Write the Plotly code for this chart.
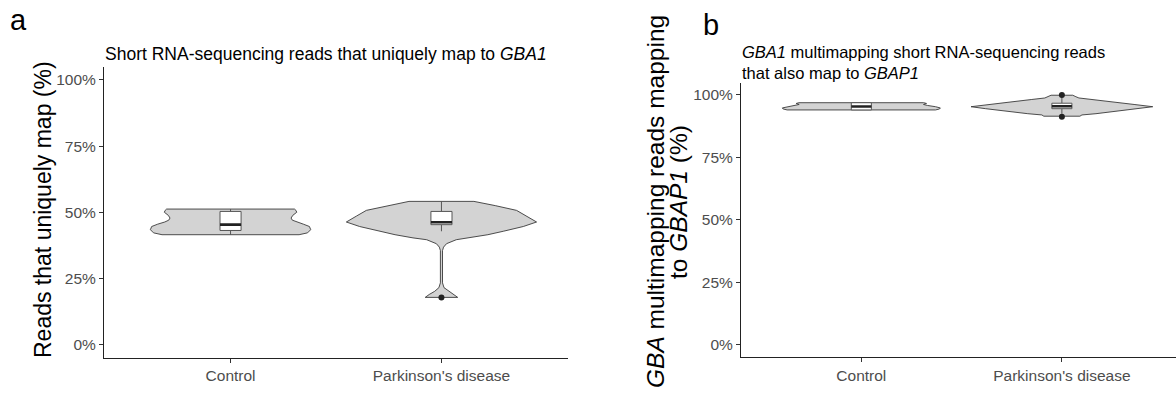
import plotly.graph_objects as go

# ---------------- data ----------------
categories = ["Control", "Parkinson's disease"]
cat_pos = [1, 2]
y_tick_vals = [0, 0.25, 0.5, 0.75, 1.0]
y_tick_text = ["0%", "25%", "50%", "75%", "100%"]

# Panel a: violin outlines (value level, half-width in category units)
ctrl_a_y = [0.415, 0.422, 0.434, 0.446, 0.455, 0.463, 0.470, 0.478, 0.488, 0.500, 0.507, 0.512]
ctrl_a_w = [0.325, 0.365, 0.380, 0.374, 0.345, 0.312, 0.293, 0.287, 0.295, 0.314, 0.310, 0.303]
pd_a_y = [0.178, 0.189, 0.201, 0.215, 0.233, 0.300, 0.355, 0.368, 0.381, 0.396, 0.403,
          0.415, 0.428, 0.446, 0.463, 0.485, 0.507, 0.525, 0.541]
pd_a_w = [0.077, 0.058, 0.032, 0.012, 0.005, 0.004, 0.005, 0.010, 0.024, 0.070, 0.135,
          0.220, 0.293, 0.388, 0.451, 0.404, 0.356, 0.255, 0.154]

# Panel b: violin outlines
ctrl_b_y = [0.940, 0.944, 0.948, 0.953, 0.958, 0.962, 0.966, 0.969]
ctrl_b_w = [0.370, 0.390, 0.394, 0.370, 0.330, 0.310, 0.325, 0.311]
pd_b_y = [0.915, 0.920, 0.925, 0.935, 0.945, 0.953, 0.962, 0.972, 0.982, 0.988, 0.993, 0.999]
pd_b_w = [0.090, 0.100, 0.170, 0.280, 0.380, 0.453, 0.360, 0.250, 0.150, 0.085, 0.070, 0.054]

# Box statistics [Control, Parkinson's disease]
a_lower = [0.415, 0.428]
a_q1 = [0.431, 0.453]
a_median = [0.453, 0.462]
a_q3 = [0.503, 0.503]
a_upper = [0.512, 0.541]
a_outliers = [[], [0.178]]

b_lower = [0.940, 0.925]
b_q1 = [0.940, 0.945]
b_median = [0.954, 0.955]
b_q3 = [0.969, 0.967]
b_upper = [0.969, 0.990]
b_outliers = [[], [0.913, 1.000]]

# ---------------- figure ----------------
W, H = 1176, 396
BOX_W = 0.1
FONT = "Liberation Sans, Arial, sans-serif"

fig = go.Figure()


def add_violin(xa, ya, pos, ys, ws):
    xs = [pos + w for w in ws] + [pos - w for w in reversed(ws)]
    yy = list(ys) + list(reversed(ys))
    fig.add_trace(go.Scatter(
        x=xs + [xs[0]], y=yy + [yy[0]], mode="lines", fill="toself",
        fillcolor="#d3d3d3", line=dict(color="#3a3a3a", width=0.9),
        xaxis=xa, yaxis=ya, hoverinfo="skip", showlegend=False))


def add_boxes(xa, ya, lower, q1, med, q3, upper, outl):
    for i, pos in enumerate(cat_pos):
        l, r = pos - BOX_W / 2, pos + BOX_W / 2
        # whiskers
        fig.add_trace(go.Scatter(
            x=[pos, pos, None, pos, pos], y=[lower[i], q1[i], None, q3[i], upper[i]],
            mode="lines", line=dict(color="#555555", width=1),
            xaxis=xa, yaxis=ya, hoverinfo="skip", showlegend=False))
        # box body
        fig.add_trace(go.Scatter(
            x=[l, r, r, l, l], y=[q1[i], q1[i], q3[i], q3[i], q1[i]],
            mode="lines", fill="toself", fillcolor="white",
            line=dict(color="#555555", width=1),
            xaxis=xa, yaxis=ya, hoverinfo="skip", showlegend=False))
        # median
        fig.add_trace(go.Scatter(
            x=[l, r], y=[med[i], med[i]],
            mode="lines", line=dict(color="#222222", width=2.6),
            xaxis=xa, yaxis=ya, hoverinfo="skip", showlegend=False))
        if outl[i]:
            fig.add_trace(go.Scatter(
                x=[pos] * len(outl[i]), y=outl[i], mode="markers",
                marker=dict(color="#222222", size=6),
                xaxis=xa, yaxis=ya, hoverinfo="skip", showlegend=False))


add_violin("x", "y", cat_pos[0], ctrl_a_y, ctrl_a_w)
add_violin("x", "y", cat_pos[1], pd_a_y, pd_a_w)
add_boxes("x", "y", a_lower, a_q1, a_median, a_q3, a_upper, a_outliers)

add_violin("x2", "y2", cat_pos[0], ctrl_b_y, ctrl_b_w)
add_violin("x2", "y2", cat_pos[1], pd_b_y, pd_b_w)
add_boxes("x2", "y2", b_lower, b_q1, b_median, b_q3, b_upper, b_outliers)

axis_style = dict(
    showline=True, linecolor="#222222", linewidth=1, ticks="outside",
    ticklen=4, tickcolor="#333333", tickwidth=1, showgrid=False,
    zeroline=False, tickfont=dict(family=FONT, size=15.5, color="#4d4d4d"),
)

fig.update_layout(
    width=W, height=H, margin=dict(l=0, r=0, t=0, b=0),
    paper_bgcolor="white", plot_bgcolor="white",
    showlegend=False,
    xaxis=dict(domain=[104 / W, 568 / W], anchor="y", range=[0.4, 2.6],
               tickmode="array", tickvals=cat_pos, ticktext=categories, **axis_style),
    yaxis=dict(domain=[1 - 357.7 / H, 1 - 66.75 / H], anchor="x", range=[-0.05, 1.05],
               tickmode="array", tickvals=y_tick_vals, ticktext=y_tick_text, **axis_style),
    xaxis2=dict(domain=[741 / W, 1.0], anchor="y2", range=[0.4, 2.569],
                tickmode="array", tickvals=cat_pos, ticktext=categories, **axis_style),
    yaxis2=dict(domain=[1 - 357 / H, 1 - 82.5 / H], anchor="x2", range=[-0.05, 1.05],
                tickmode="array", tickvals=y_tick_vals, ticktext=y_tick_text, **axis_style),
)


def ann(text, x, y, size, xanchor="left", yanchor="middle", angle=0, align="left"):
    fig.add_annotation(text=text, x=x / W, y=1 - y / H, xref="paper", yref="paper",
                       xanchor=xanchor, yanchor=yanchor, textangle=angle, align=align,
                       showarrow=False, font=dict(family=FONT, size=size, color="black"))


# panel letters
ann("a", 8, 20, 29)
ann("b", 701, 25, 29)
# panel titles
ann("Short RNA-sequencing reads that uniquely map to <i>GBA1</i>", 103, 54, 17.5)
ann("<i>GBA1</i> multimapping short RNA-sequencing reads<br>that also map to <i>GBAP1</i>",
    740, 62, 16.5)
# y-axis titles
ann("Reads that uniquely map (%)", 43, 210, 23, xanchor="center", angle=-90, align="center")
ann("<i>GBA</i> multimapping reads mapping", 656, 202, 24.5, xanchor="center", angle=-90,
    align="center")
ann("to <i>GBAP1</i> (%)", 679, 202, 24.5, xanchor="center", angle=-90, align="center")

fig.write_html("out.html")
